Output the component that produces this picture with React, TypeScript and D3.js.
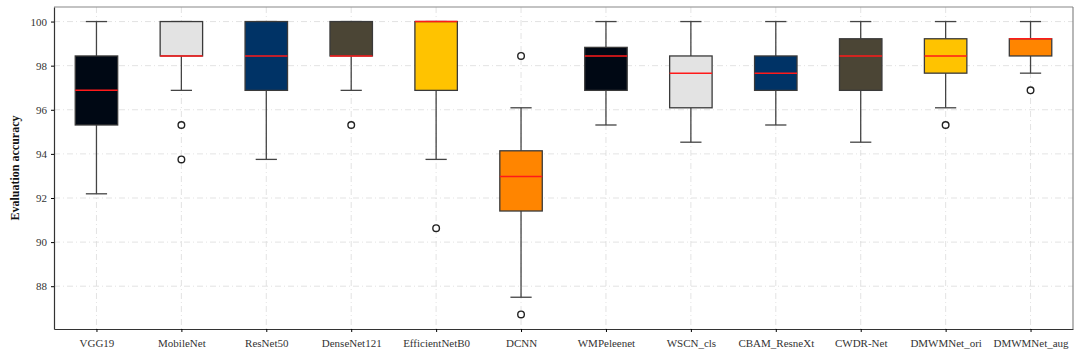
import { useEffect, useRef } from "react";
import * as d3 from "d3";

const models = [
  "VGG19", "MobileNet", "ResNet50", "DenseNet121", "EfficientNetB0", "DCNN",
  "WMPeleenet", "WSCN_cls", "CBAM_ResneXt", "CWDR-Net", "DMWMNet_ori", "DMWMNet_aug",
];
const whiskerLow = [92.19, 96.88, 93.75, 96.88, 93.75, 87.5, 95.31, 94.53, 95.31, 94.53, 96.09, 97.66];
const q1 = [95.31, 98.44, 96.88, 98.44, 96.88, 91.41, 96.88, 96.09, 96.88, 96.88, 97.66, 98.44];
const median = [96.88, 98.44, 98.44, 98.44, 100, 92.97, 98.44, 97.66, 97.66, 98.44, 98.44, 99.22];
const q3 = [98.44, 100, 100, 100, 100, 94.14, 98.83, 98.44, 98.44, 99.22, 99.22, 99.22];
const whiskerHigh = [100, 100, 100, 100, 100, 96.09, 100, 100, 100, 100, 100, 100];
const outliers = [[], [95.31, 93.75], [], [95.31], [90.63], [98.44, 86.72], [], [], [], [], [95.31], [96.88]];
const yTicks = [88, 90, 92, 94, 96, 98, 100];
const palette = ["#000814", "#e3e3e3", "#003366", "#4b4535", "#ffc300", "#ff8500"];

export default function App() {
  const svgRef = useRef<SVGSVGElement | null>(null);

  useEffect(() => {
    const width = 1080;
    const height = 351;
    const margin = { top: 7, right: 7, bottom: 22, left: 54 };
    const svg = d3.select(svgRef.current);
    svg.selectAll("*").remove();

    const font = "'Liberation Serif', 'Times New Roman', serif";

    const x = d3.scaleLinear().domain([0.5, models.length + 0.5]).range([margin.left, width - margin.right]);
    const y = d3.scaleLinear().domain([86.06, 100.66]).range([height - margin.bottom, margin.top]);
    const boxW = x(1.25) - x(0.75);
    const capW = boxW / 2;

    const g = svg.append("g");

    // grid
    g.selectAll(".hgrid")
      .data(yTicks)
      .join("line")
      .attr("x1", margin.left)
      .attr("x2", width - margin.right)
      .attr("y1", (d) => y(d))
      .attr("y2", (d) => y(d))
      .attr("stroke", "#dcdcdc")
      .attr("stroke-width", 0.8)
      .attr("stroke-dasharray", "6,3,1,3");

    g.selectAll(".vgrid")
      .data(models)
      .join("line")
      .attr("x1", (d, i) => x(i + 1))
      .attr("x2", (d, i) => x(i + 1))
      .attr("y1", margin.top)
      .attr("y2", height - margin.bottom)
      .attr("stroke", "#dcdcdc")
      .attr("stroke-width", 0.8)
      .attr("stroke-dasharray", "6,3,1,3");

    const boxes = g.selectAll(".box")
      .data(models)
      .join("g")
      .attr("class", "box");

    // whiskers
    boxes.append("line")
      .attr("x1", (d, i) => x(i + 1))
      .attr("x2", (d, i) => x(i + 1))
      .attr("y1", (d, i) => y(whiskerLow[i]))
      .attr("y2", (d, i) => y(q1[i]))
      .attr("stroke", "#444")
      .attr("stroke-width", 1.3);
    boxes.append("line")
      .attr("x1", (d, i) => x(i + 1))
      .attr("x2", (d, i) => x(i + 1))
      .attr("y1", (d, i) => y(q3[i]))
      .attr("y2", (d, i) => y(whiskerHigh[i]))
      .attr("stroke", "#444")
      .attr("stroke-width", 1.3);
    boxes.append("line")
      .attr("x1", (d, i) => x(i + 1) - capW / 2)
      .attr("x2", (d, i) => x(i + 1) + capW / 2)
      .attr("y1", (d, i) => y(whiskerLow[i]))
      .attr("y2", (d, i) => y(whiskerLow[i]))
      .attr("stroke", "#444")
      .attr("stroke-width", 1.3);
    boxes.append("line")
      .attr("x1", (d, i) => x(i + 1) - capW / 2)
      .attr("x2", (d, i) => x(i + 1) + capW / 2)
      .attr("y1", (d, i) => y(whiskerHigh[i]))
      .attr("y2", (d, i) => y(whiskerHigh[i]))
      .attr("stroke", "#444")
      .attr("stroke-width", 1.3);

    // box body
    boxes.append("rect")
      .attr("x", (d, i) => x(i + 1) - boxW / 2)
      .attr("width", boxW)
      .attr("y", (d, i) => y(q3[i]))
      .attr("height", (d, i) => y(q1[i]) - y(q3[i]))
      .attr("fill", (d, i) => palette[i % palette.length])
      .attr("stroke", "#3a3a3a")
      .attr("stroke-width", 1.3);

    // median
    boxes.append("line")
      .attr("x1", (d, i) => x(i + 1) - boxW / 2)
      .attr("x2", (d, i) => x(i + 1) + boxW / 2)
      .attr("y1", (d, i) => y(median[i]))
      .attr("y2", (d, i) => y(median[i]))
      .attr("stroke", "#ff1a1a")
      .attr("stroke-width", 1.5);

    // fliers
    boxes.selectAll("circle")
      .data((d, i) => outliers[i].map((v) => ({ i, v })))
      .join("circle")
      .attr("cx", (d) => x(d.i + 1))
      .attr("cy", (d) => y(d.v))
      .attr("r", 3.3)
      .attr("fill", "white")
      .attr("stroke", "#222")
      .attr("stroke-width", 1.4);

    // frame
    svg.append("line")
      .attr("x1", margin.left).attr("x2", width - margin.right)
      .attr("y1", margin.top).attr("y2", margin.top)
      .attr("stroke", "#888").attr("stroke-width", 1.2);
    svg.append("line")
      .attr("x1", width - margin.right).attr("x2", width - margin.right)
      .attr("y1", margin.top).attr("y2", height - margin.bottom)
      .attr("stroke", "#888").attr("stroke-width", 1.2);

    const yAxis = svg.append("g")
      .attr("transform", `translate(${margin.left},0)`)
      .call(d3.axisLeft(y).tickValues(yTicks).tickSize(3).tickSizeOuter(0).tickPadding(4));
    yAxis.select(".domain").attr("stroke", "#333").attr("stroke-width", 1.2);
    yAxis.selectAll("text").style("font-family", font).style("font-size", "11px").attr("fill", "#333");

    const xAxis = svg.append("g")
      .attr("transform", `translate(0,${height - margin.bottom})`)
      .call(
        d3.axisBottom(x)
          .tickValues(models.map((d, i) => i + 1))
          .tickFormat((d) => models[(d as number) - 1])
          .tickSize(3)
          .tickSizeOuter(0)
          .tickPadding(4),
      );
    xAxis.select(".domain").attr("stroke", "#333").attr("stroke-width", 1.2);
    xAxis.selectAll("text")
      .attr("y", 0)
      .attr("dy", 18)
      .style("font-family", font)
      .style("font-size", "11px")
      .attr("fill", "#333");

    svg.append("text")
      .attr("transform", `translate(19,${(margin.top + height - margin.bottom) / 2}) rotate(-90)`)
      .attr("text-anchor", "middle")
      .style("font-family", font)
      .style("font-size", "12px")
      .style("font-weight", "bold")
      .attr("fill", "#111")
      .text("Evaluation accuracy");
  }, []);

  return (
    <div style={{ position: "absolute", left: 0, top: 0, width: 1080, height: 351, background: "white" }}>
      <svg ref={svgRef} width={1080} height={351} style={{ display: "block", overflow: "visible" }} />
    </div>
  );
}
